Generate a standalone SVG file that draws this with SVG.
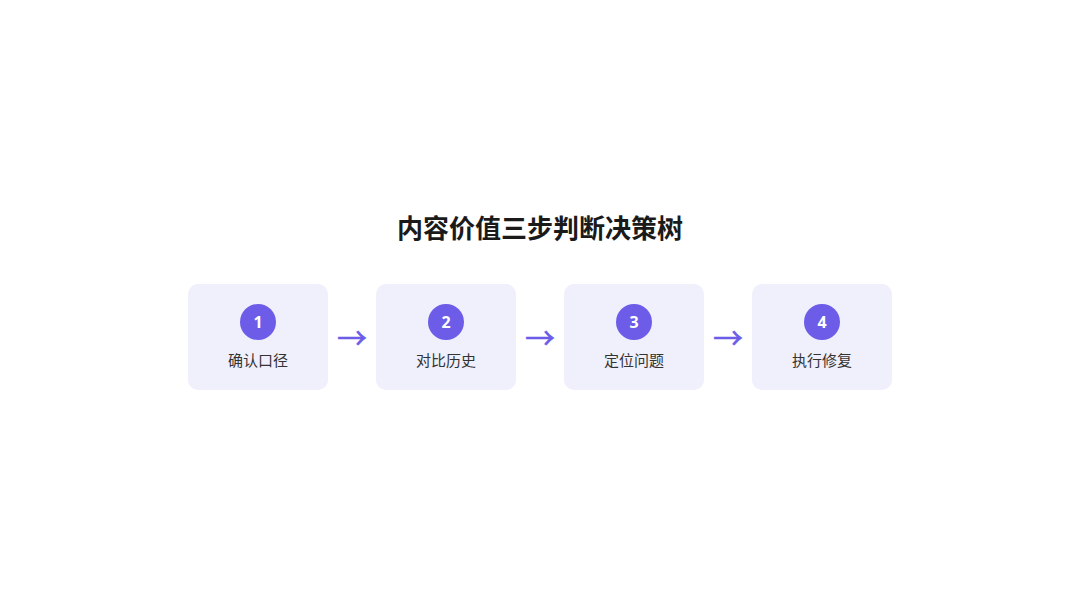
<svg xmlns="http://www.w3.org/2000/svg" width="1080" height="600" viewBox="0 0 1080 600">
<style>
.title{font-family:"Noto Sans CJK SC","Noto Sans",sans-serif;font-size:26px;font-weight:700;fill:#1a1a1a;text-anchor:middle}
.box{fill:#f0effc}
.dot{fill:#6c5ce7}
.num{font-family:"Noto Sans","Open Sans",sans-serif;font-size:16px;font-weight:700;fill:#ffffff;text-anchor:middle}
.lbl{font-family:"Noto Sans CJK SC",sans-serif;font-size:15px;fill:#333333;text-anchor:middle}
.arr{font-family:"Noto Sans CJK SC",sans-serif;font-size:30px;fill:#6c5ce7;stroke:#6c5ce7;stroke-width:0.4;text-anchor:middle}
</style>
<rect width="1080" height="600" fill="#ffffff"/>
<text class="title" x="540" y="238">内容价值三步判断决策树</text>
<g id="node1">
<rect class="box" x="188" y="284" width="140" height="106" rx="10"/>
<circle class="dot" cx="258" cy="322" r="18"/>
<text class="num" x="258" y="328">1</text>
<text class="lbl" x="258" y="366">确认口径</text>
</g>
<g id="node2">
<rect class="box" x="376" y="284" width="140" height="106" rx="10"/>
<circle class="dot" cx="446" cy="322" r="18"/>
<text class="num" x="446" y="328">2</text>
<text class="lbl" x="446" y="366">对比历史</text>
</g>
<g id="node3">
<rect class="box" x="564" y="284" width="140" height="106" rx="10"/>
<circle class="dot" cx="634" cy="322" r="18"/>
<text class="num" x="634" y="328">3</text>
<text class="lbl" x="634" y="366">定位问题</text>
</g>
<g id="node4">
<rect class="box" x="752" y="284" width="140" height="106" rx="10"/>
<circle class="dot" cx="822" cy="322" r="18"/>
<text class="num" x="822" y="328">4</text>
<text class="lbl" x="822" y="366">执行修复</text>
</g>
<g id="connectors">
<text class="arr" x="352" y="349">→</text>
<text class="arr" x="540" y="349">→</text>
<text class="arr" x="728" y="349">→</text>
</g>
</svg>
